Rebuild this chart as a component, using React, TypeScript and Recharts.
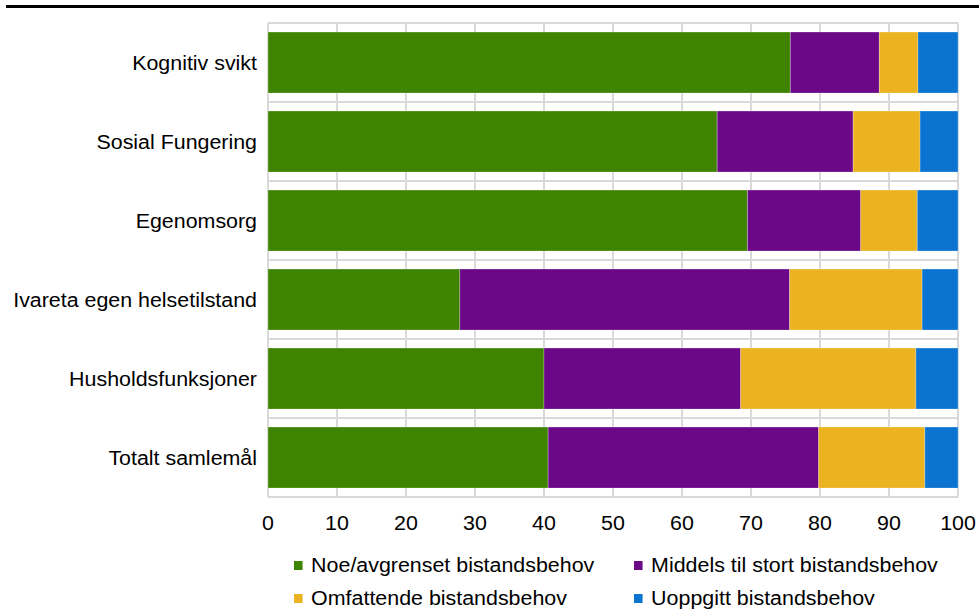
import { BarChart, Bar, XAxis, YAxis, CartesianGrid } from 'recharts'

const CATEGORIES = [
  'Kognitiv svikt',
  'Sosial Fungering',
  'Egenomsorg',
  'Ivareta egen helsetilstand',
  'Husholdsfunksjoner',
  'Totalt samlemål',
]

const NOE = [75.7, 65.1, 69.5, 27.8, 40.0, 40.6]
const MIDDELS = [12.9, 19.7, 16.4, 47.8, 28.5, 39.2]
const OMFATTENDE = [5.6, 9.7, 8.2, 19.2, 25.4, 15.4]
const UOPPGITT = [5.8, 5.5, 5.9, 5.2, 6.1, 4.8]

const X_TICKS = [0, 10, 20, 30, 40, 50, 60, 70, 80, 90, 100]

const SERIES = [
  { key: 'noe', label: 'Noe/avgrenset bistandsbehov', color: '#3F8400', values: NOE },
  { key: 'middels', label: 'Middels til stort bistandsbehov', color: '#6A0888', values: MIDDELS },
  { key: 'omfattende', label: 'Omfattende bistandsbehov', color: '#EBB31F', values: OMFATTENDE },
  { key: 'uoppgitt', label: 'Uoppgitt bistandsbehov', color: '#0A74D0', values: UOPPGITT },
]

const FONT = '"Liberation Sans", Arial, sans-serif'
const STRETCH = 1.07 // the source text is a little wider than Arial

const data = CATEGORIES.map((name, i) => {
  const row: Record<string, string | number> = { name }
  SERIES.forEach(s => { row[s.key] = s.values[i] })
  return row
})

// grid lines between the categories, not through their centres
const bandLines = ({ offset }: any) =>
  Array.from({ length: CATEGORIES.length + 1 }, (_, i) => offset.top + (i * offset.height) / CATEGORIES.length)

const CategoryTick = ({ x, y, payload }: any) => (
  <text
    transform={`translate(${x},${y}) scale(${STRETCH},1)`}
    textAnchor="end"
    dy="0.35em"
    fontSize={20}
    fontFamily={FONT}
    fill="#000"
  >
    {payload.value}
  </text>
)

const ValueTick = ({ x, y, payload }: any) => (
  <text
    transform={`translate(${x},${y}) scale(${STRETCH},1)`}
    textAnchor="middle"
    dy="0.71em"
    fontSize={20}
    fontFamily={FONT}
    fill="#000"
  >
    {payload.value}
  </text>
)

// legend positions: two columns, two rows
const LEGEND_COLS = [294, 634]
const LEGEND_ROWS = [565, 598]

export default function App() {
  return (
    <div style={{ position: 'absolute', left: 0, top: 0, width: 979, height: 609, background: '#fff', fontFamily: FONT }}>
      <div style={{ position: 'absolute', left: 6, top: 5, width: 973, height: 3, background: '#000' }} />
      <BarChart
        width={979}
        height={609}
        data={data}
        layout="vertical"
        margin={{ top: 23, right: 21, left: 0, bottom: 82 }}
        barCategoryGap="11.5%"
      >
        <CartesianGrid
          stroke="#D9D9D9"
          strokeWidth={2}
          horizontalCoordinatesGenerator={bandLines}
        />
        <XAxis
          type="number"
          domain={[0, 100]}
          ticks={X_TICKS}
          axisLine={false}
          tickLine={false}
          tickMargin={13}
          height={30}
          interval={0}
          tick={<ValueTick />}
        />
        <YAxis
          type="category"
          dataKey="name"
          width={268}
          axisLine={false}
          tickLine={false}
          tickMargin={5}
          interval={0}
          tick={<CategoryTick />}
        />
        {SERIES.map(s => (
          <Bar
            key={s.key}
            dataKey={s.key}
            stackId="a"
            fill={s.color}
            stroke="#ffffff"
            strokeOpacity={0.25}
            strokeWidth={1}
            isAnimationActive={false}
          />
        ))}
      </BarChart>
      {SERIES.map((s, i) => (
        <div
          key={s.key}
          style={{
            position: 'absolute',
            left: LEGEND_COLS[i % 2],
            top: LEGEND_ROWS[Math.floor(i / 2)] - 12,
            height: 24,
            display: 'flex',
            alignItems: 'center',
            fontSize: 20,
            color: '#000',
            whiteSpace: 'nowrap',
            transform: `scaleX(${STRETCH})`,
            transformOrigin: 'left center',
          }}
        >
          <span style={{ display: 'inline-block', width: 8, height: 9, background: s.color, marginRight: 8 }} />
          {s.label}
        </div>
      ))}
    </div>
  )
}
